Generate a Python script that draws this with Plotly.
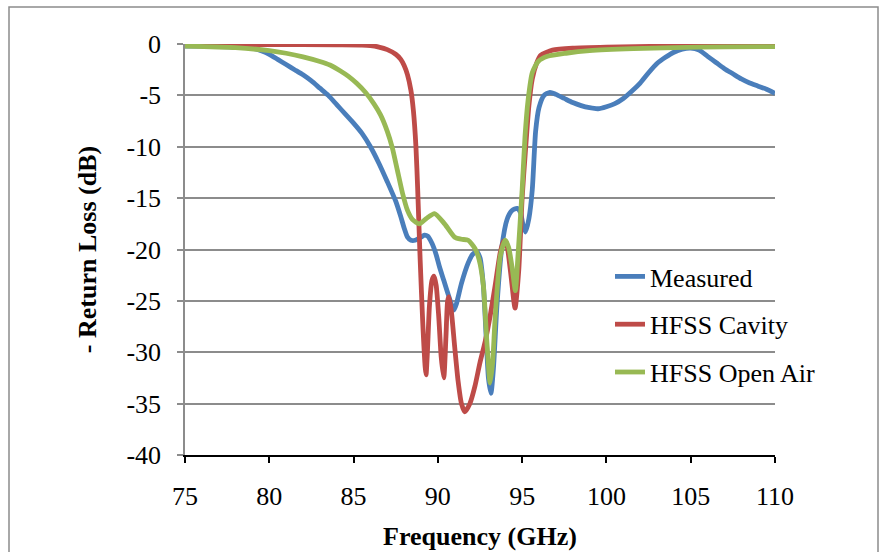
import plotly.graph_objects as go

# ---------------- data ----------------
meas_f = [75, 76, 77, 78, 79, 79.6, 80, 80.5, 81, 81.5, 82, 82.5, 83, 83.5, 84, 84.5, 85, 85.5,
          86, 86.5, 87, 87.5, 87.8, 88.0, 88.2, 88.4, 88.65, 89.0, 89.2, 89.4, 89.65, 89.9, 90.1,
          90.35, 90.6, 90.8, 90.95, 91.1, 91.4, 91.8, 92.05, 92.3, 92.5, 92.7, 92.85, 93.0, 93.15,
          93.3, 93.5, 93.8, 94.1, 94.4, 94.7, 94.9, 95.05, 95.2, 95.4, 95.6, 95.8, 96.0, 96.3,
          96.65, 97.0, 97.5, 98.0, 98.5, 99.0, 99.5, 100.0, 100.5, 101.0, 101.5, 102.0, 102.5,
          103.0, 103.5, 104.0, 104.5, 105.0, 105.5, 106.0, 106.5, 107.0, 107.5, 108.0, 108.5,
          109.0, 109.5, 110.0]
meas_db = [-0.2, -0.2, -0.25, -0.3, -0.4, -0.7, -1.0, -1.5, -2.0, -2.5, -3.0, -3.6, -4.3, -5.0,
           -5.9, -6.8, -7.7, -8.7, -10.0, -11.6, -13.4, -15.3, -16.8, -17.9, -18.8, -19.1, -19.1,
           -18.8, -18.6, -18.7, -19.4, -20.5, -21.7, -23.0, -24.3, -25.3, -25.9, -25.3, -23.3,
           -21.3, -20.5, -20.2, -20.8, -23.5, -28.0, -32.5, -34.0, -31.5, -25.6, -19.7, -17.1,
           -16.2, -16.0, -16.4, -17.6, -18.3, -17.0, -14.2, -8.5, -6.2, -5.0, -4.7, -4.9, -5.3,
           -5.7, -6.0, -6.2, -6.3, -6.1, -5.8, -5.3, -4.6, -3.8, -2.8, -1.9, -1.3, -0.8, -0.5,
           -0.4, -0.6, -1.2, -1.8, -2.4, -2.9, -3.4, -3.8, -4.1, -4.4, -4.8]

cav_f = [75, 80, 84, 85.5, 86.0, 86.5, 87.0, 87.5, 87.8, 88.0, 88.2, 88.4, 88.55, 88.7, 88.8,
         88.95, 89.1, 89.25, 89.3, 89.38, 89.5, 89.65, 89.77, 89.9, 90.05, 90.2, 90.35, 90.48,
         90.58, 90.66, 90.8, 91.0, 91.2, 91.4, 91.6, 91.9, 92.2, 92.5, 92.8, 93.1, 93.4, 93.7,
         93.9, 94.05, 94.3, 94.58, 94.8, 95.0, 95.2, 95.4, 95.6, 95.85, 96.1, 96.8, 98, 100, 105,
         110]
cav_db = [-0.05, -0.05, -0.08, -0.1, -0.15, -0.3, -0.55, -1.0, -1.5, -2.1, -3.0, -4.5, -6.5,
          -10.0, -14.0, -21.0, -27.0, -31.5, -32.2, -30.0, -25.5, -23.0, -22.6, -23.5, -26.5,
          -30.5, -32.5, -28.5, -25.0, -24.6, -26.0, -29.5, -32.8, -35.0, -35.8, -35.0, -33.3,
          -31.0, -29.0, -26.5, -23.5, -20.3, -19.2, -19.3, -22.0, -25.7, -22.0, -15.0, -10.3,
          -6.0, -3.4, -1.9, -1.1, -0.6, -0.4, -0.3, -0.2, -0.15]

air_f = [75, 78, 80, 81, 82, 83, 83.6, 84.2, 84.7, 85.2, 85.7, 86.2, 86.6, 87, 87.3, 87.6, 87.9,
         88.2, 88.5, 88.9, 89.3, 89.8, 90.4, 91.0, 91.4, 91.8, 92.2, 92.45, 92.7, 92.9, 93.1,
         93.25, 93.4, 93.7, 94.0, 94.2, 94.4, 94.6, 94.75, 95.0, 95.17, 95.35, 95.6, 95.95, 96.5,
         97.6, 99, 101.6, 104, 107, 110]
air_db = [-0.2, -0.35, -0.65, -0.9, -1.25, -1.7, -2.05, -2.6, -3.15, -3.85, -4.7, -5.8, -6.9,
          -8.5, -10.1, -12.3, -14.5, -16.2, -17.1, -17.5, -17.0, -16.5, -17.5, -18.8, -19.0,
          -19.1, -19.9, -21.0, -23.5, -28.8, -33.0, -31.0, -26.6, -20.7, -19.1, -19.8, -21.7,
          -24.0, -20.7, -14.2, -9.0, -5.5, -2.8, -1.7, -1.2, -0.9, -0.65, -0.45, -0.35, -0.28,
          -0.25]

series_names = ["Measured", "HFSS Cavity", "HFSS Open Air"]
x_ticks = [75, 80, 85, 90, 95, 100, 105, 110]
y_ticks = [0, -5, -10, -15, -20, -25, -30, -35, -40]

# ---------------- figure ----------------
FONT = "Liberation Serif"
colors = ["#4a7ebb", "#be4b48", "#98b954"]
fig = go.Figure()
for i, (xs, ys) in enumerate([(meas_f, meas_db), (cav_f, cav_db), (air_f, air_db)]):
    fig.add_trace(go.Scatter(x=xs, y=ys, mode="lines", name=series_names[i],
                             legendgroup=f"g{i}",
                             line=dict(color=colors[i], width=4.8, shape="spline", smoothing=0.6)))

L, R, T, B = 185, 108, 44, 97
W, H = 883, 552
pw, ph = W - L - R, H - T - B

fig.update_layout(
    width=W, height=H,
    margin=dict(l=L, r=R, t=T, b=B, autoexpand=False),
    paper_bgcolor="white", plot_bgcolor="white",
    font=dict(family=FONT, size=25, color="black"),
    showlegend=True,
    legend=dict(x=(610 - L) / pw, y=(455 - 253) / ph, xanchor="left", yanchor="top",
                bgcolor="rgba(0,0,0,0)", font=dict(family=FONT, size=26, color="black"),
                tracegroupgap=11),
    xaxis=dict(range=[75, 110], tickvals=x_ticks, ticktext=[str(v) for v in x_ticks],
               automargin=False,
               showgrid=False, zeroline=False, showline=True, linecolor="black", linewidth=1.5,
               ticks="outside", ticklen=6, tickcolor="black", tickwidth=1.5,
               ticklabelstandoff=11,
               tickfont=dict(family=FONT, size=26),
               title=dict(text="<b>Frequency (GHz)</b>", font=dict(family=FONT, size=26),
                          standoff=17)),
    yaxis=dict(range=[-40, 0], tickvals=y_ticks, ticktext=[str(v) for v in y_ticks],
               automargin=False,
               showgrid=True, gridcolor="#8c8c8c", gridwidth=1.5, zeroline=False,
               showline=True, linecolor="#8c8c8c", linewidth=1.5,
               ticks="outside", ticklen=6, tickcolor="#8c8c8c", tickwidth=1.5,
               ticklabelstandoff=11,
               tickfont=dict(family=FONT, size=26),
               title=dict(text="<b>- Return Loss (dB)</b>", font=dict(family=FONT, size=26),
                          standoff=22)),
)

# outer chart border
fig.add_shape(type="rect", xref="paper", yref="paper",
              x0=(9 - L) / pw, x1=(878 - L) / pw,
              y0=(455 - 570) / ph, y1=(455 - 7) / ph,
              line=dict(color="#8c8c8c", width=1.5), fillcolor="rgba(0,0,0,0)", layer="below")

fig.write_html("out.html")
